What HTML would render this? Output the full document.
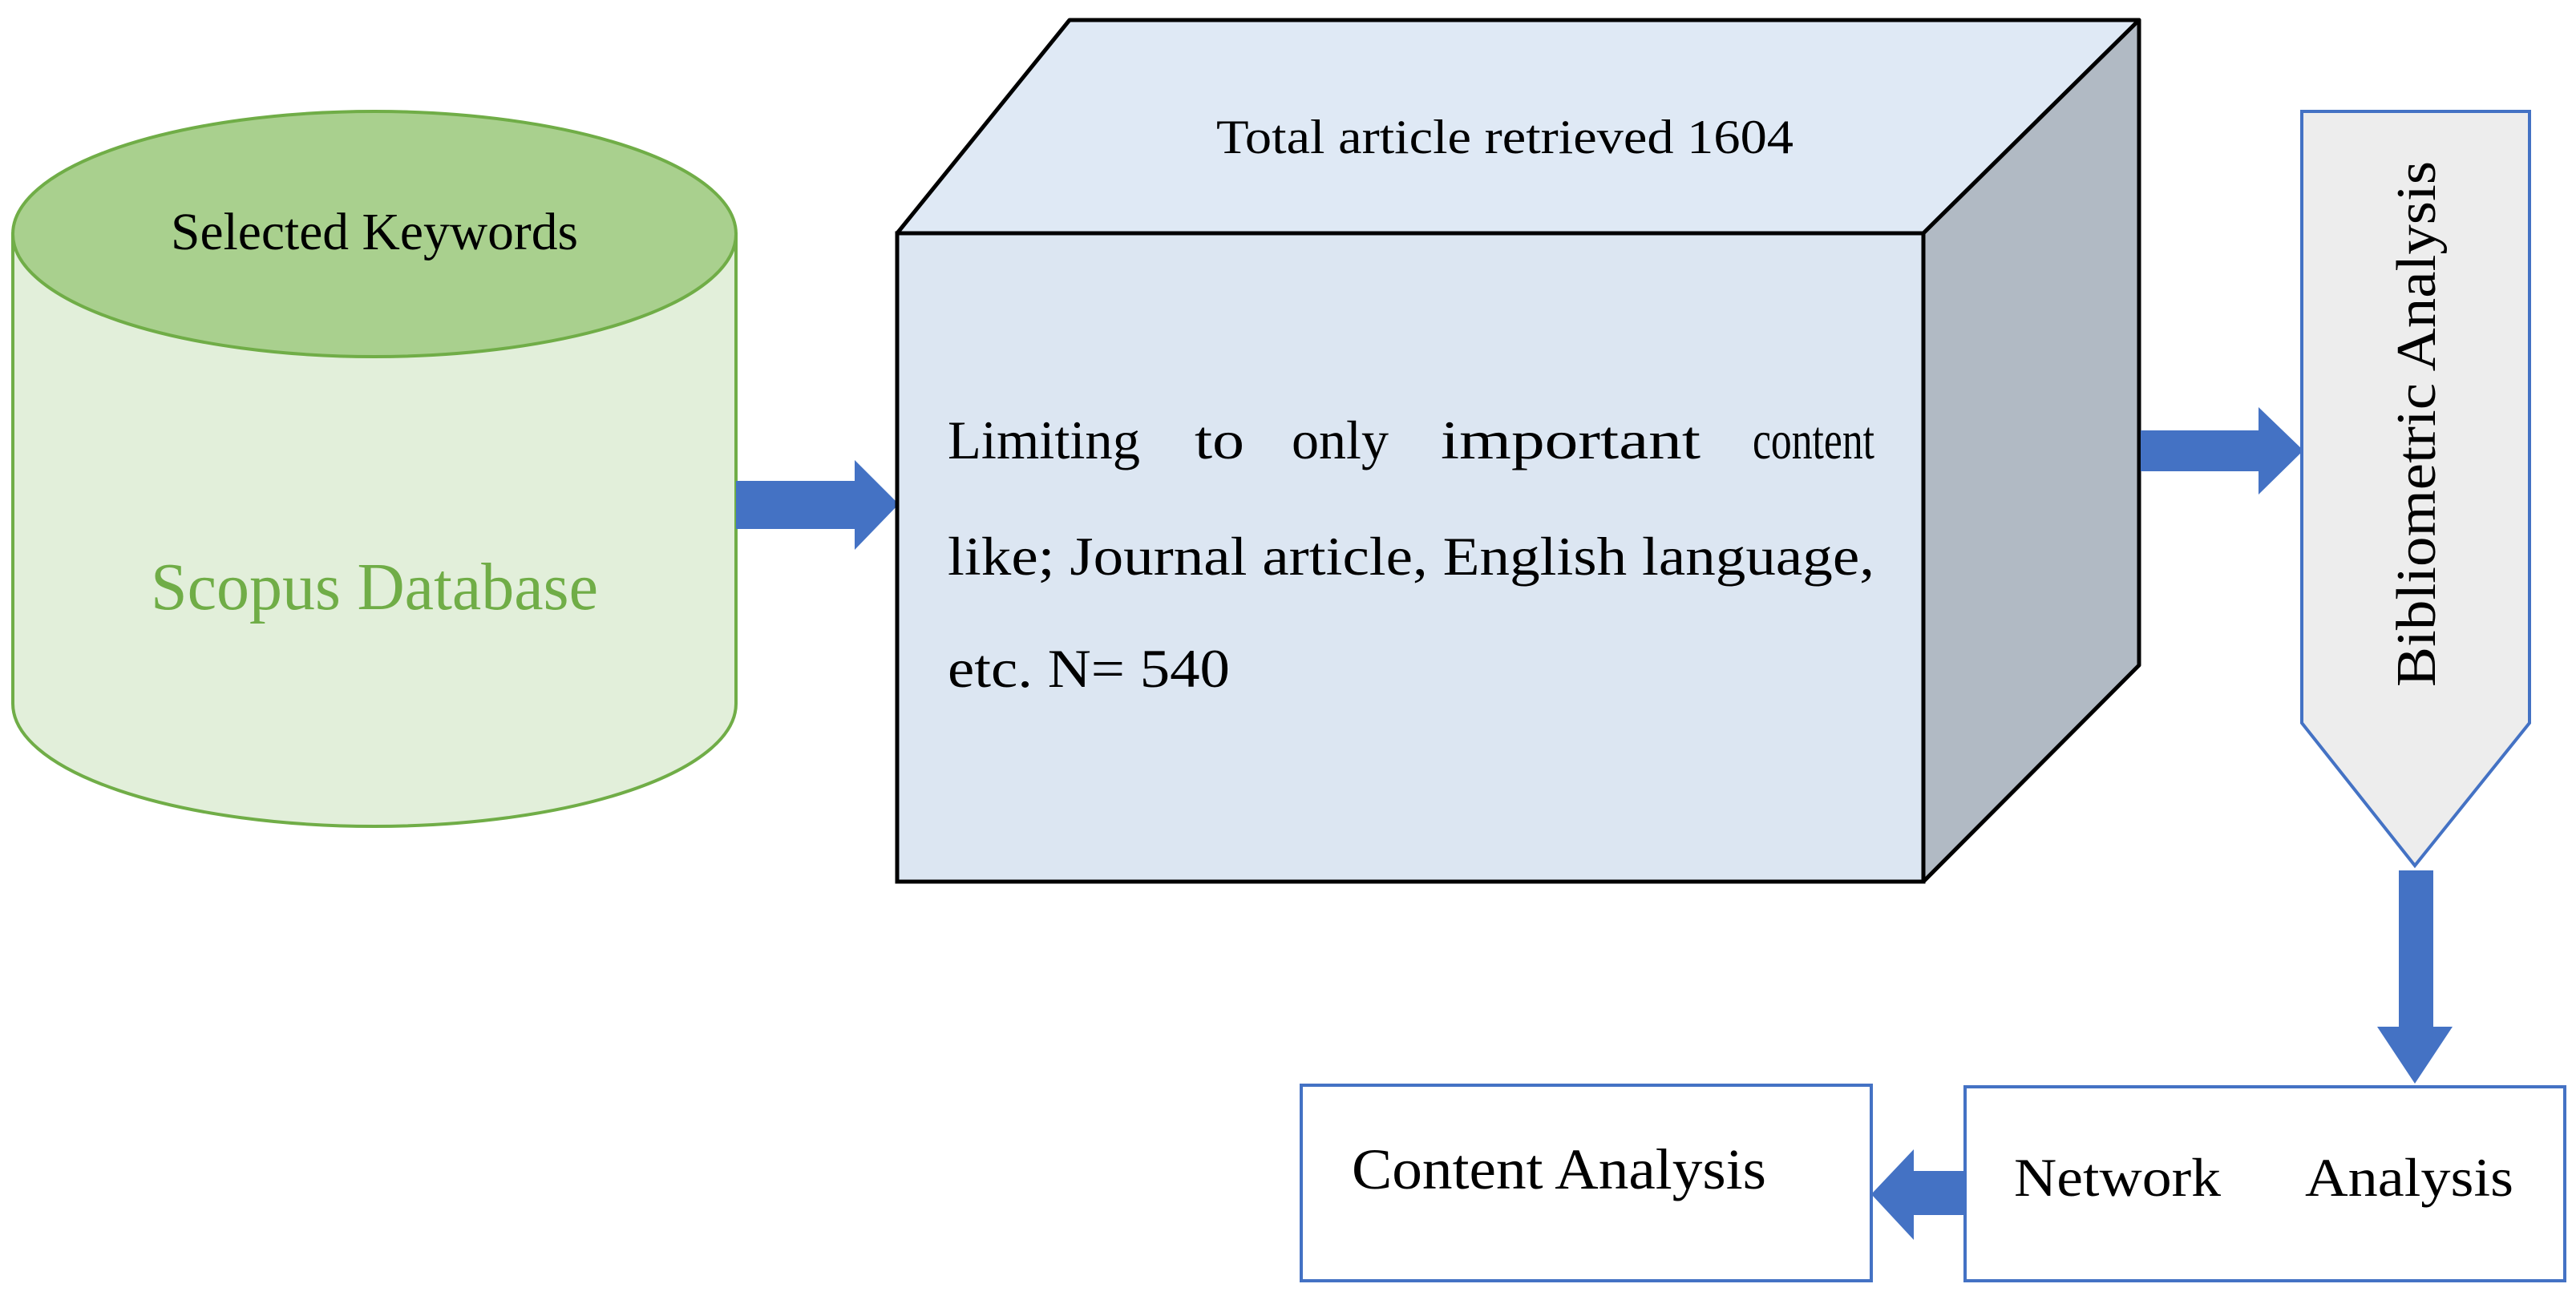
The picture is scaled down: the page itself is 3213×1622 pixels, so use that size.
<!DOCTYPE html>
<html><head><meta charset="utf-8"><style>
html,body{margin:0;padding:0;background:#fff}
svg{display:block}
text{font-family:"Liberation Serif",serif;fill:#000}
</style></head><body>
<svg width="3213" height="1622" viewBox="0 0 3213 1622" xmlns="http://www.w3.org/2000/svg">
<!-- Cylinder -->
<path d="M16 292 L16 878 A451 153 0 0 0 918 878 L918 292 Z" fill="#e2efda" stroke="#70ad47" stroke-width="4"/>
<ellipse cx="467" cy="292" rx="451" ry="153" fill="#a9d08e" stroke="#70ad47" stroke-width="4"/>
<text x="467" y="311" font-size="66" text-anchor="middle" textLength="508" lengthAdjust="spacingAndGlyphs">Selected Keywords</text>
<text x="467" y="760" font-size="84" text-anchor="middle" textLength="558" lengthAdjust="spacingAndGlyphs" style="fill:#70ad47">Scopus Database</text>
<!-- Arrow 1 -->
<polygon points="918,600 1066,600 1066,574 1121,629 1066,686 1066,660 918,660" fill="#4472c4"/>
<!-- Cube -->
<polygon points="1119,291 1334,25 2668,25 2399,291" fill="#dfe9f5" stroke="#000" stroke-width="5" stroke-linejoin="round"/>
<polygon points="2399,291 2668,25 2668,830 2399,1100" fill="#b1bac4" stroke="#000" stroke-width="5" stroke-linejoin="round"/>
<rect x="1119" y="291" width="1280" height="809" fill="#dce6f2" stroke="#000" stroke-width="5"/>
<text x="1877" y="191" font-size="60" text-anchor="middle" textLength="720" lengthAdjust="spacingAndGlyphs">Total article retrieved 1604</text>
<text x="1182" y="572" font-size="68" textLength="240" lengthAdjust="spacingAndGlyphs">Limiting</text>
<text x="1490" y="572" font-size="68" textLength="62" lengthAdjust="spacingAndGlyphs">to</text>
<text x="1611" y="572" font-size="68" textLength="121" lengthAdjust="spacingAndGlyphs">only</text>
<text x="1797" y="572" font-size="68" textLength="324" lengthAdjust="spacingAndGlyphs">important</text>
<text x="2186" y="572" font-size="68" textLength="152" lengthAdjust="spacingAndGlyphs">content</text>
<text x="1182" y="717" font-size="68" textLength="1156" lengthAdjust="spacingAndGlyphs">like; Journal article, English language,</text>
<text x="1182" y="857" font-size="68" textLength="352" lengthAdjust="spacingAndGlyphs">etc. N= 540</text>
<!-- Arrow 2 -->
<polygon points="2670,537 2817,537 2817,508 2873,562 2817,617 2817,588 2670,588" fill="#4472c4"/>
<!-- Pentagon -->
<polygon points="2871,139 3155,139 3155,902 3012,1080 2871,902" fill="#ededed" stroke="#4472c4" stroke-width="4"/>
<text transform="translate(3037,529) rotate(-90)" font-size="70" text-anchor="middle" textLength="656" lengthAdjust="spacingAndGlyphs">Bibliometric Analysis</text>
<!-- Arrow 3 -->
<polygon points="2992,1086 3035,1086 3035,1281 3059,1281 3012,1352 2965,1281 2992,1281" fill="#4472c4"/>
<!-- Network box -->
<rect x="2451" y="1356" width="748" height="242" fill="#fff" stroke="#4472c4" stroke-width="4"/>
<text x="2512" y="1492" font-size="68" textLength="258" lengthAdjust="spacingAndGlyphs">Network</text>
<text x="2875" y="1492" font-size="68" textLength="260" lengthAdjust="spacingAndGlyphs">Analysis</text>
<!-- Arrow 4 -->
<polygon points="2453,1461 2387,1461 2387,1434 2334,1490 2387,1547 2387,1516 2453,1516" fill="#4472c4"/>
<!-- Content box -->
<rect x="1623" y="1354" width="711" height="244" fill="#fff" stroke="#4472c4" stroke-width="4"/>
<text x="1686" y="1483" font-size="72" textLength="517" lengthAdjust="spacingAndGlyphs">Content Analysis</text>
</svg>
</body></html>
